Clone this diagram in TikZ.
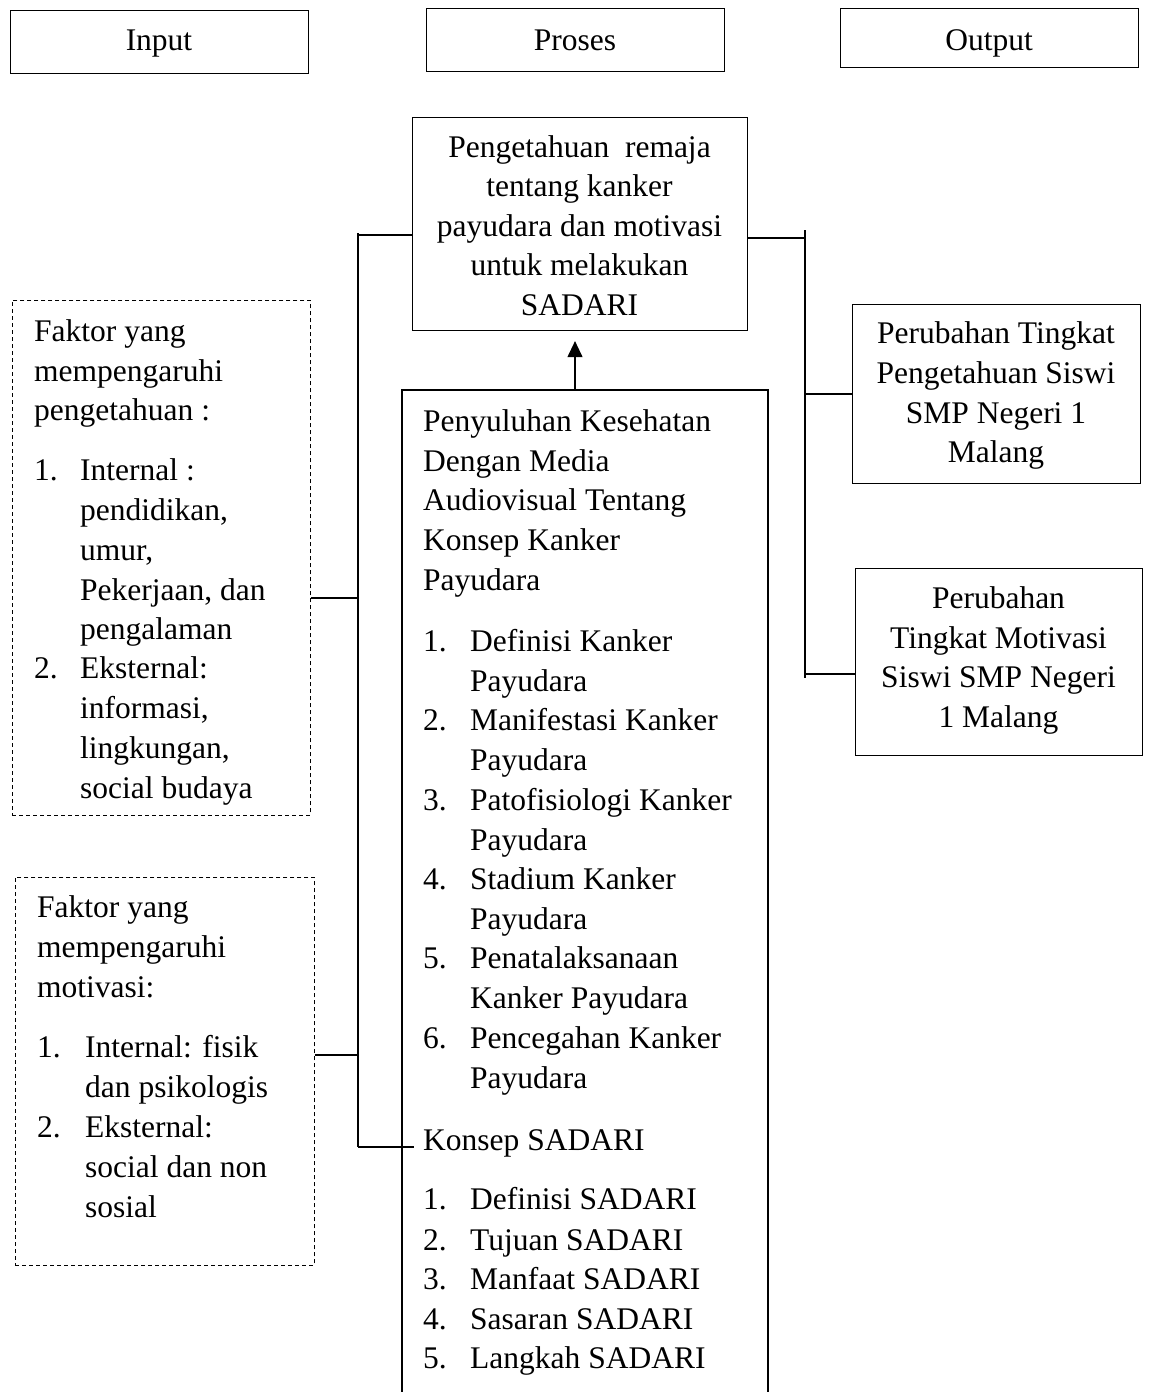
\documentclass[tikz,border=0pt]{standalone}
\usepackage{fontspec}
\setmainfont{Liberation Serif}
\usetikzlibrary{arrows.meta}
\begin{document}
\begin{tikzpicture}[x=1pt,y=-1pt,
  box/.style={draw,line width=1.1pt},
  dbox/.style={draw,line width=0.8pt,dash pattern=on 4pt off 3pt},
  conn/.style={line width=1.1pt},
  tl/.style={anchor=base west,inner sep=0pt,font=\fontsize{31.5}{39.7}\selectfont},
  tc/.style={anchor=base,inner sep=0pt,font=\fontsize{31.5}{39.7}\selectfont}]
\useasboundingbox (0,0) rectangle (1150,1392);
% header boxes
\node[box,minimum width=298pt,minimum height=63pt,anchor=north west] (hin) at (10,10) {};
\node[box,minimum width=298pt,minimum height=63pt,anchor=north west] (hpr) at (426,8) {};
\node[box,minimum width=298pt,minimum height=59pt,anchor=north west] (hout) at (840,8) {};
\node[tc] (tin) at (159,50) {Input};
\node[tc] (tpr) at (575,50) {Proses};
\node[tc] (tout) at (989,50) {Output};
% top knowledge box
\node[box,minimum width=335pt,minimum height=213pt,anchor=north west] (know) at (412,117) {};
\node[tc] (k1) at (579.5,157) {Pengetahuan\ \ remaja};
\node[tc] (k2) at (579.5,196.5) {tentang kanker};
\node[tc] (k3) at (579.5,236) {payudara dan motivasi};
\node[tc] (k4) at (579.5,275.5) {untuk melakukan};
\node[tc] (k5) at (579.5,315) {SADARI};
% center box (open at bottom)
\coordinate (cbl) at (402,1400);
\coordinate (cbr) at (768,1400);
\coordinate (ctl) at (402,390);
\coordinate (ctr) at (768,390);
\draw[conn] (cbl) -- (ctl) -- (ctr) -- (cbr);
\coordinate (arrs) at (575,390);
\draw[conn,shorten >=10pt,-{Triangle[length=16pt,width=15pt]}] (arrs) -- (know.south -| arrs);
\node[tl] (c1) at (423,431) {Penyuluhan Kesehatan};
\node[tl] (c2) at (423,471) {Dengan Media};
\node[tl] (c3) at (423,510) {Audiovisual Tentang};
\node[tl] (c4) at (423,550) {Konsep Kanker};
\node[tl] (c5) at (423,590) {Payudara};
\node[tl] (c6n) at (423,651) {1.};\node[tl] (c6) at (470,651) {Definisi Kanker};
\node[tl] (c7) at (470,691) {Payudara};
\node[tl] (c8n) at (423,730) {2.};\node[tl] (c8) at (470,730) {Manifestasi Kanker};
\node[tl] (c9) at (470,770) {Payudara};
\node[tl] (c10n) at (423,810) {3.};\node[tl] (c10) at (470,810) {Patofisiologi Kanker};
\node[tl] (c11) at (470,850) {Payudara};
\node[tl] (c12n) at (423,889) {4.};\node[tl] (c12) at (470,889) {Stadium Kanker};
\node[tl] (c13) at (470,929) {Payudara};
\node[tl] (c14n) at (423,968) {5.};\node[tl] (c14) at (470,968) {Penatalaksanaan};
\node[tl] (c15) at (470,1008) {Kanker Payudara};
\node[tl] (c16n) at (423,1048) {6.};\node[tl] (c16) at (470,1048) {Pencegahan Kanker};
\node[tl] (c17) at (470,1088) {Payudara};
\node[tl] (c18) at (423,1150) {Konsep SADARI};
\node[tl] (c19n) at (423,1209) {1.};\node[tl] (c19) at (470,1209) {Definisi SADARI};
\node[tl] (c20n) at (423,1250) {2.};\node[tl] (c20) at (470,1250) {Tujuan SADARI};
\node[tl] (c21n) at (423,1289) {3.};\node[tl] (c21) at (470,1289) {Manfaat SADARI};
\node[tl] (c22n) at (423,1329) {4.};\node[tl] (c22) at (470,1329) {Sasaran SADARI};
\node[tl] (c23n) at (423,1368) {5.};\node[tl] (c23) at (470,1368) {Langkah SADARI};
% left dashed boxes
\node[dbox,minimum width=298pt,minimum height=515pt,anchor=north west] (fk1) at (12,300) {};
\node[tl] (f1) at (34,341) {Faktor yang};
\node[tl] (f2) at (34,381) {mempengaruhi};
\node[tl] (f3) at (34,420) {pengetahuan :};
\node[tl] (f4n) at (34,480) {1.};\node[tl] (f4) at (80,480) {Internal :};
\node[tl] (f5) at (80,520) {pendidikan,};
\node[tl] (f6) at (80,560) {umur,};
\node[tl] (f7) at (80,600) {Pekerjaan, dan};
\node[tl] (f8) at (80,639) {pengalaman};
\node[tl] (f9n) at (34,678) {2.};\node[tl] (f9) at (80,678) {Eksternal:};
\node[tl] (f10) at (80,718) {informasi,};
\node[tl] (f11) at (80,758) {lingkungan,};
\node[tl] (f12) at (80,798) {social budaya};
\node[dbox,minimum width=299pt,minimum height=388pt,anchor=north west] (fk2) at (15,877) {};
\node[tl] (g1) at (37,917) {Faktor yang};
\node[tl] (g2) at (37,957) {mempengaruhi};
\node[tl] (g3) at (37,997) {motivasi:};
\node[tl] (g4n) at (37,1057) {1.};\node[tl] (g4) at (85,1057) {Internal: fisik};
\node[tl] (g5) at (85,1097) {dan psikologis};
\node[tl] (g6n) at (37,1137) {2.};\node[tl] (g6) at (85,1137) {Eksternal:};
\node[tl] (g7) at (85,1177) {social dan non};
\node[tl] (g8) at (85,1217) {sosial};
% right boxes
\node[box,minimum width=288pt,minimum height=179pt,anchor=north west] (out1) at (852,304) {};
\node[tc] (o1) at (996,343) {Perubahan Tingkat};
\node[tc] (o2) at (996,383) {Pengetahuan Siswi};
\node[tc] (o3) at (996,423) {SMP Negeri 1};
\node[tc] (o4) at (996,462) {Malang};
\node[box,minimum width=287pt,minimum height=187pt,anchor=north west] (out2) at (855,568) {};
\node[tc] (p1) at (998.5,608) {Perubahan};
\node[tc] (p2) at (998.5,648) {Tingkat Motivasi};
\node[tc] (p3) at (998.5,687) {Siswi SMP Negeri};
\node[tc] (p4) at (998.5,727) {1 Malang};
% left connectors
\coordinate (lt) at (358,233);
\coordinate (lb) at (358,1147);
\draw[conn] (lt) -- (lb);
\draw[conn] (358,235) -- (know.west |- 0,235);
\draw[conn] (fk1.east |- 0,598) -- (358,598);
\draw[conn] (fk2.east |- 0,1055) -- (358,1055);
\draw[conn] (lb) -- (414,1147);
% right connectors
\coordinate (rt) at (805,230);
\coordinate (rb) at (805,678);
\draw[conn] (rt) -- (rb);
\draw[conn] (know.east |- 0,238) -- (805,238);
\draw[conn] (805,394) -- (out1.west |- 0,394);
\draw[conn] (805,674) -- (out2.west |- 0,674);
\end{tikzpicture}
\end{document}
